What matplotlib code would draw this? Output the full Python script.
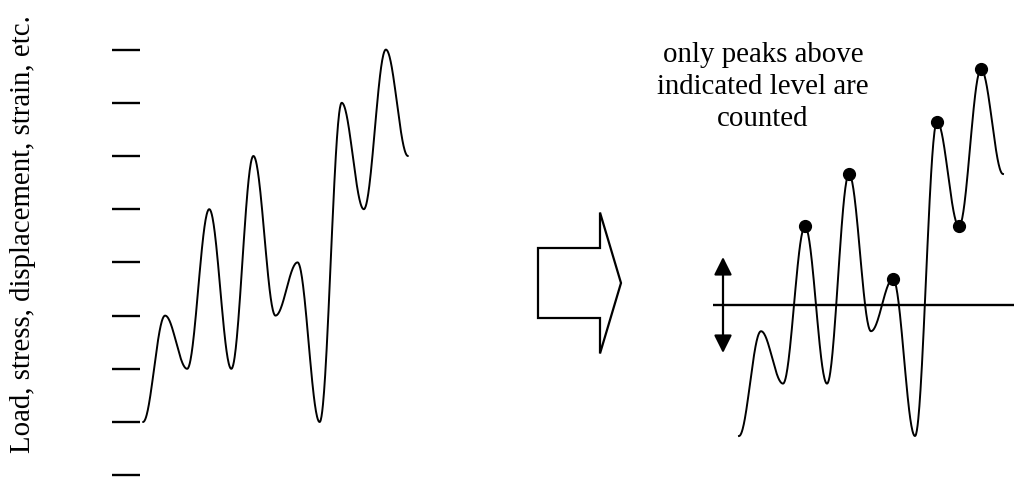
import numpy as np
import matplotlib
matplotlib.use("Agg")
import matplotlib.pyplot as plt
from matplotlib.patches import FancyArrow

# ---- data ----
turning_points = [0, 2, 1, 4, 1, 5, 2, 3, 0, 6, 4, 7, 5]   # load-history extrema (levels)
tick_levels = [-1, 0, 1, 2, 3, 4, 5, 6, 7]
count_level = 2.5
ylabel_text = "Load, stress, displacement, strain, etc."
note_lines = ["only peaks above", "indicated level are", "counted"]

SERIF = ["Liberation Serif", "DejaVu Serif"]


def smooth_history(levels, n=60):
    """Half-cosine rendering between successive turning points."""
    xs, ys = [], []
    for i in range(len(levels) - 1):
        t = np.linspace(0, 1, n, endpoint=False)
        xs.append(i + t)
        ys.append(levels[i] + (levels[i + 1] - levels[i]) * (1 - np.cos(np.pi * t)) / 2)
    xs.append([len(levels) - 1])
    ys.append([levels[-1]])
    return np.concatenate(xs), np.concatenate(ys)


W, H = 1014, 479
fig = plt.figure(figsize=(W / 100, H / 100), dpi=100)


def px_axes(x0, y0, x1, y1):
    ax = fig.add_axes([x0 / W, 1 - y1 / H, (x1 - x0) / W, (y1 - y0) / H])
    ax.set_facecolor("none")
    for s in ax.spines.values():
        s.set_visible(False)
    ax.set_xticks([])
    return ax


hx, hy = smooth_history(turning_points)

# ---- left panel ----
dxL, dyL = 22.08, 53.2
axL = px_axes(140, 20, 420, 479)
axL.set_xlim(-3 / dxL, (420 - 143) / dxL)
axL.set_ylim((422 - 479) / dyL, (422 - 20) / dyL)
axL.plot(hx, hy, color="black", lw=1.4, solid_capstyle="round")
axL.set_yticks(tick_levels)
axL.tick_params(axis="y", direction="out", length=20.5, width=1.7,
                labelleft=False, color="black")
axL.set_ylabel(ylabel_text, fontsize=20.8, family=SERIF, va="center")
axL.yaxis.set_label_coords((23 - 140) / 280, (479 - 234) / 459)

# ---- right panel ----
dxR, dyR = 22.0, 52.4
axR = px_axes(700, 20, 1014, 479)
axR.set_yticks([])
x_lo, x_hi = (700 - 739) / dxR, (1014 - 739) / dxR
axR.set_xlim(x_lo, x_hi)
axR.set_ylim((436 - 479) / dyR, (436 - 20) / dyR)
axR.plot(hx, hy, color="black", lw=1.4)
axR.hlines(count_level, (713 - 739) / dxR, x_hi, color="black", lw=1.7)
idx = [i for i in range(1, len(turning_points) - 1) if turning_points[i] > count_level]
axR.plot(idx, [turning_points[i] for i in idx], "o", color="black", ms=8.5)
arr_x = (723 - 739) / dxR
axR.annotate("", xy=(arr_x, count_level + 0.916), xytext=(arr_x, count_level - 0.916),
             arrowprops=dict(arrowstyle="<|-|>,head_length=0.4,head_width=0.2",
                             mutation_scale=27, lw=1.6, color="black",
                             shrinkA=0, shrinkB=0))

# ---- overlay: block arrow and note ----
ov = fig.add_axes([0, 0, 1, 1])
ov.set_xlim(0, W)
ov.set_ylim(H, 0)
ov.axis("off")
ov.set_facecolor("none")
ov.add_patch(FancyArrow(538, 283, 83, 0, width=70, head_width=141, head_length=21,
                        length_includes_head=True, fc="white", ec="black", lw=1.6))
ov.text(763, 87, "\n".join(note_lines), ha="center", va="center",
        fontsize=20.8, family=SERIF, linespacing=1.3)

fig.savefig("out.png", dpi=100)
